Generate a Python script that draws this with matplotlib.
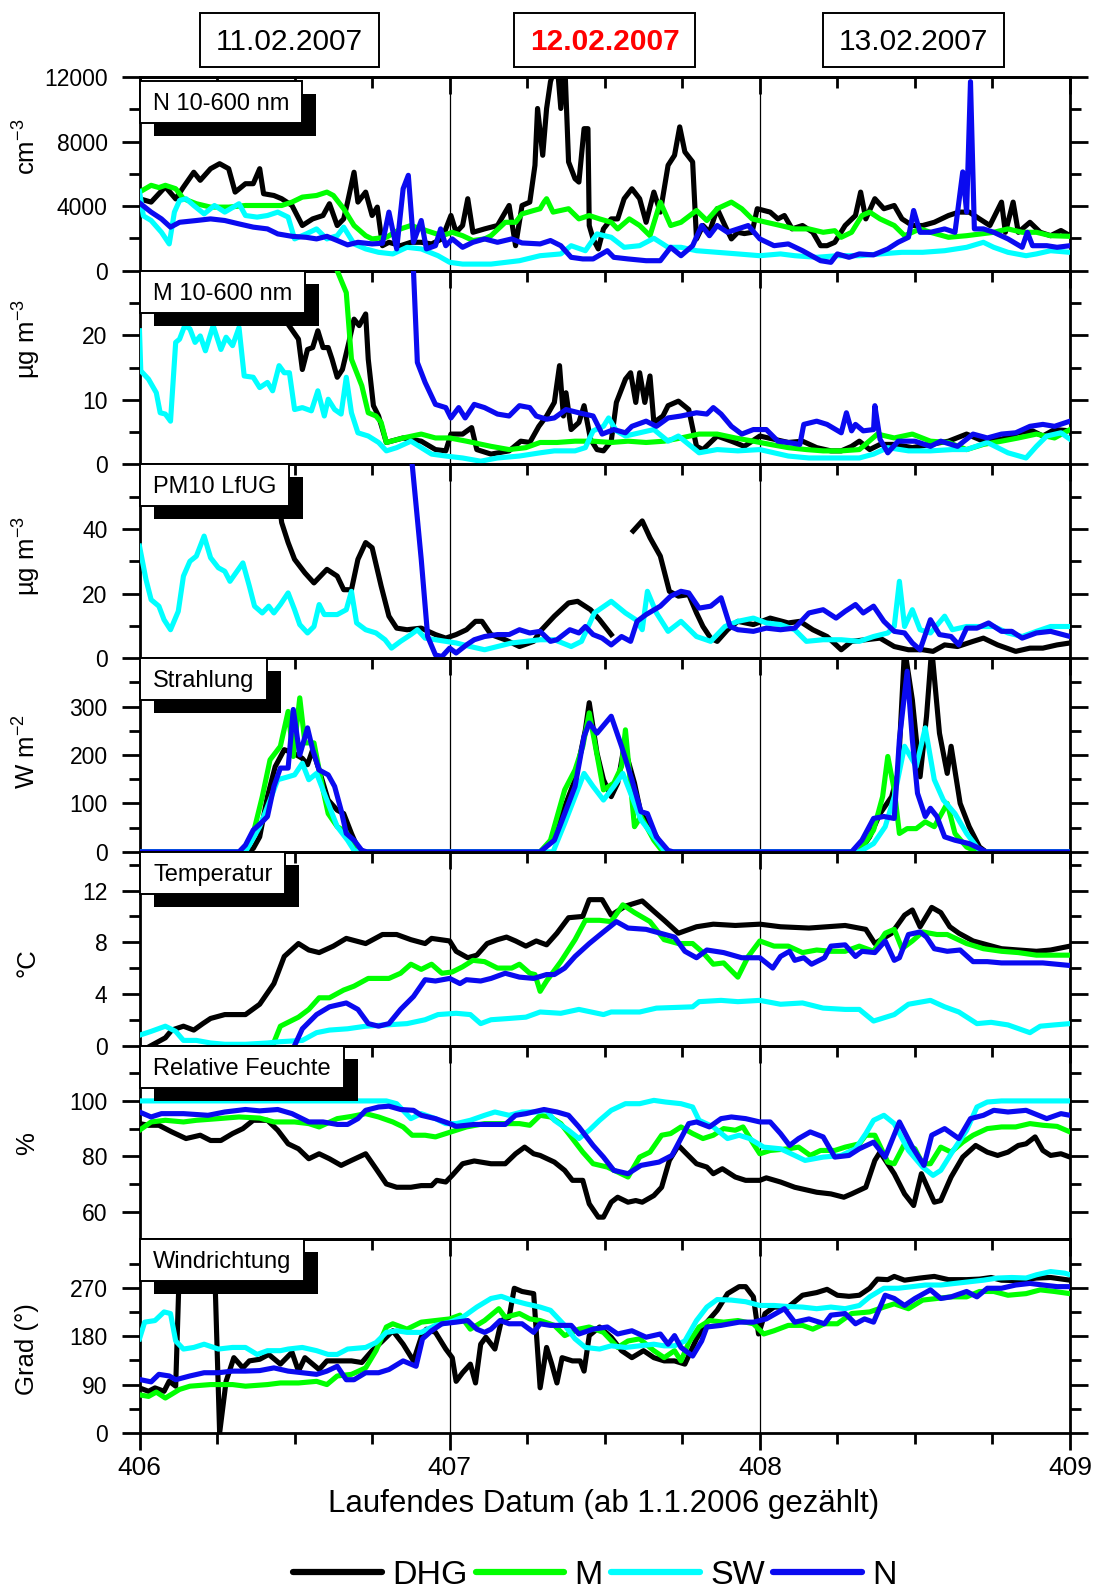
import numpy as np
import matplotlib
matplotlib.use('Agg')
import matplotlib.pyplot as plt
from matplotlib.patches import Rectangle
from matplotlib.lines import Line2D
from matplotlib.transforms import IdentityTransform

plt.rcParams['font.family'] = ['Liberation Sans', 'DejaVu Sans']
plt.rcParams['mathtext.fontset'] = 'custom'
plt.rcParams['mathtext.rm'] = 'Liberation Sans'
plt.rcParams['mathtext.it'] = 'Liberation Sans:italic'
plt.rcParams['mathtext.default'] = 'regular'

nan = np.nan
# ---------------- data: (hours after day 406.0, value) ----------------
stations = ['DHG', 'M', 'SW', 'N']
station_colors = ['#000000', '#00ff00', '#00ffff', '#0a0af0']
date_labels = ['11.02.2007', '12.02.2007', '13.02.2007']
x_ticks = [406, 407, 408, 409]

N_DHG = [(0,4460),(0.9,4250),(2,5200),(2.8,4450),(3.4,5180),(4.2,6100),(4.7,5600),(5.5,6320),(6.2,6630),(6.9,6320),(7.4,4870),(8.2,5390),(8.8,5390),(9.3,6320),(9.6,4770),(10.4,4660),(11,4460),(11.8,4040),(12.6,2800),(13.4,3210),(14.2,3420),(14.7,4150),(15.3,2800),(15.8,3210),(16.1,4250),(16.6,6100),(16.9,4250),(17.5,4870),(18,3420),(18.4,3940),(18.8,1550),(19.3,1760),(20.2,1550),(21,1760),(21.8,1760),(22.6,1660),(23.4,1970),(24.1,3420),(24.5,2380),(25,2800),(25.4,4460),(25.8,2380),(26.7,2590),(27.7,2800),(28.6,4040),(29.1,1550),(29.6,4040),(30.2,4250),(30.6,6530),(30.8,10050),(31.2,7150),(31.5,10050),(31.8,11710),(32.3,13000),(32.6,10050),(32.9,13000),(33.2,6740),(33.7,5700),(34,5490),(34.4,8800),(34.7,8800),(34.8,2800),(35.1,1970),(35.5,1350),(35.9,2590),(36.5,3210),(37,3210),(37.5,4460),(38.1,5080),(38.7,4460),(39.2,3000),(39.8,4870),(40.3,3630),(40.9,6530),(41.4,7150),(41.8,8910),(42.2,7360),(42.8,6740),(43.1,1970),(43.6,2800),(44.1,2380),(44.7,3840),(45.3,2800),(45.8,1970),(46.3,2380),(46.8,2300),(47.4,2380),(47.8,3840),(48.8,3630),(49.4,3210),(49.9,3420),(50.5,2590),(51.3,2800),(52.1,2380),(52.7,1550),(53.2,1550),(53.8,1760),(54.6,2800),(55.4,3420),(55.8,4870),(56.2,3210),(56.9,4460),(57.6,3840),(58.4,4040),(59,3210),(59.8,2800),(60.6,2800),(61.5,3000),(62.6,3420),(63.4,3630),(64.2,3630),(65,3210),(65.8,2800),(66.7,4250),(67,2380),(67.6,4250),(68,2380),(68.9,3000),(69.7,2380),(70.5,2170),(71.3,2490),(72,2170)]
N_M = [(0,4870),(0.9,5290),(1.5,5150),(2,5290),(2.8,5080),(3.4,4460),(4.4,4150),(5.5,3940),(6.9,3940),(8.2,4040),(9.9,4040),(11,4040),(11.8,4250),(12.6,4560),(13.7,4660),(14.5,4870),(15,4660),(15.8,3840),(16.6,2800),(17.5,2170),(18,1970),(19.1,2070),(20.2,2590),(21,2800),(21.8,2590),(22.6,2380),(23.4,2170),(24.2,2380),(25,2170),(25.8,1870),(26.7,1970),(27.2,2170),(28.3,3000),(29.1,3000),(29.6,3520),(30.5,3730),(31,3840),(31.3,4250),(31.5,4460),(32,3630),(33.2,3840),(34,3210),(34.8,3420),(35.6,3210),(36.5,3000),(37,2590),(37.9,3210),(38.7,2800),(39.5,2170),(40.3,4250),(41.1,2800),(41.9,3000),(43.1,3730),(43.9,3110),(44.7,3840),(45.8,4250),(46.6,3840),(47.4,3210),(48.5,3000),(49.6,2800),(50.7,2590),(51.8,2590),(52.9,2380),(53.8,2480),(54.3,2070),(55.1,2380),(55.9,3420),(56.5,3630),(57.3,3210),(58.4,2800),(59.2,2170),(60.4,2590),(61.2,2380),(62.6,2070),(64,2170),(65,2270),(66.1,2380),(67.2,2590),(68.3,2380),(69.4,2380),(70.5,2170),(72,2130)]
N_SW = [(0,4900),(0.3,3400),(0.9,3110),(1.7,2380),(2.3,1660),(2.7,3630),(3.1,4350),(3.6,4460),(4.2,4040),(5,3520),(5.8,4040),(6.6,3630),(7.7,4150),(8.2,3420),(9.1,3320),(9.9,3420),(10.7,3630),(11.5,3320),(12,1970),(12.9,2280),(13.7,2590),(14.5,1970),(15.3,2170),(15.8,2700),(16.6,1660),(17.5,1350),(18.5,1140),(19.6,1040),(20.7,1450),(21.8,1350),(23.1,930),(24,520),(25,410),(27.2,410),(29.4,620),(31,930),(32.6,1040),(33.4,1550),(34.5,1240),(35.4,2280),(36.5,2070),(37.5,1450),(38.7,1550),(39.8,2010),(40.9,1450),(41.9,1450),(43.1,1240),(44.7,1140),(46.3,1040),(48,930),(49.6,1040),(50.7,930),(52.4,830),(54,930),(55.7,930),(57.3,1040),(59,1140),(60.6,1140),(62.3,1240),(64,1450),(65.3,1760),(66.1,1450),(67.2,1140),(68.6,930),(69.4,1040),(70.5,1240),(72,1140)]
N_N = [(0,4200),(0.9,3630),(1.7,3210),(2.4,2700),(3.1,3000),(4.4,3110),(5.5,3210),(6.6,3110),(7.7,2900),(8.8,2700),(9.9,2590),(10.7,2280),(11.8,2130),(12.9,2070),(13.7,1970),(14.5,2130),(15.3,1870),(16.1,1600),(16.9,1760),(18,1660),(18.8,1700),(19.3,3630),(19.9,1350),(20.4,5080),(20.8,5910),(21.2,1760),(21.8,3110),(22.2,1350),(22.9,1550),(23.3,2590),(23.7,1550),(24.2,1970),(25,1450),(25.8,1760),(26.7,1970),(27.7,1760),(28.8,1970),(29.6,1720),(31,1660),(31.8,1870),(32.6,1550),(33.4,830),(34.3,730),(35.1,730),(36.2,1240),(36.7,830),(37.8,730),(39.2,620),(40.3,620),(41.1,1450),(41.9,930),(42.8,1550),(43.5,2800),(44.1,2170),(44.7,2800),(45.5,2380),(46.3,2590),(47.1,2800),(48,1970),(49.1,1550),(50.2,1660),(51.3,1240),(52.7,620),(53.5,520),(54,1040),(54.9,830),(55.7,1040),(56.8,980),(57.9,1350),(58.7,1760),(59.5,2070),(59.9,3730),(60.4,2380),(61.2,2380),(62.3,2590),(63.1,2380),(63.7,6120),(64,3630),(64.3,11710),(64.6,2590),(65.3,2590),(66.1,2380),(67.2,1970),(68.3,1450),(68.7,2380),(69.1,1550),(70.2,1550),(71,1450),(72,1550)]

M_DHG = [(0,32),(10.5,32),(11.5,21.7),(12.3,19.4),(12.6,14.7),(13,17.8),(13.4,18.1),(13.8,20.7),(14.2,18.1),(14.6,18.1),(14.9,16.3),(15.3,13.5),(15.7,14.7),(16.2,18.9),(16.6,22.5),(17,21.5),(17.5,23.3),(17.7,16.3),(18.1,9.1),(18.5,7.5),(19.1,3.4),(20.4,4.1),(21.8,3.6),(22.9,2.3),(23.7,2.1),(24.1,4.7),(25,4.7),(25.7,5.7),(26.1,2.3),(27.2,1.6),(28.6,2.1),(29.5,3.6),(30.2,3.4),(30.9,5.9),(31.5,7.5),(32.1,9.6),(32.5,15.3),(32.8,7.5),(33,11.1),(33.4,5.4),(34,6.5),(34.4,9.1),(34.9,3.9),(35.4,2.3),(35.9,2.1),(36.5,3.6),(36.9,9.6),(37.6,13.2),(38,14.2),(38.4,9.6),(38.7,14.2),(39.1,9.6),(39.5,13.7),(39.8,6.5),(40.5,7.5),(40.9,9.1),(41.7,9.8),(42.5,8.5),(43.1,2.8),(43.6,2.3),(44.7,4.4),(45.8,3.6),(46.8,2.8),(48,4.4),(49.1,3.9),(50.2,3.4),(51.3,3.6),(52.4,2.6),(53.5,2.1),(54.3,2.1),(55.1,2.8),(55.7,3.6),(56.5,2.3),(57.3,3.1),(58.4,3.1),(59.8,2.6),(61.2,3.1),(62.6,3.6),(64,4.7),(65.3,3.6),(66.7,3.9),(68,4.9),(69.1,5.2),(69.9,4.4),(70.8,5.4),(72,5.2)]
M_M = [(0,35),(15,35),(15.3,30),(16,26.6),(16.4,16.3),(17.2,12.2),(17.7,8),(18.3,7.5),(18.7,6.5),(19.1,3.4),(20.4,4.1),(21.8,4.7),(22.9,4.1),(24,4.1),(25.3,3.6),(27.2,2.8),(28.6,2.3),(29.9,2.6),(31,3.4),(32.3,3.4),(33.7,3.6),(35.1,3.6),(36.5,3.4),(37.8,3.6),(39.2,3.4),(40.6,3.6),(41.9,4.1),(43.3,4.7),(44.7,4.7),(46.1,4.1),(47.5,3.6),(48.8,3.1),(50.2,2.6),(51.6,2.3),(52.9,2.1),(54.3,2.1),(55.7,2.3),(57.1,4.7),(58.4,4.1),(59.8,4.7),(61.2,3.6),(62.6,3.4),(64,2.3),(65.3,3.1),(66.7,3.6),(68,4.1),(69.4,4.7),(70.8,4.1),(72,5.4)]
M_SW = [(0,20.7),(0.1,14.5),(0.7,13.2),(1.3,11.1),(1.6,8),(2,7.8),(2.4,6.7),(2.8,18.9),(3.1,19.4),(3.5,21.5),(3.9,21),(4.3,18.9),(4.7,19.9),(5.1,17.6),(5.7,21.5),(6.3,17.8),(6.7,19.7),(7.2,18.4),(7.7,21.2),(8.1,13.7),(8.8,13.5),(9.3,11.9),(9.9,12.7),(10.3,11.4),(10.8,15.3),(11.2,14.2),(11.6,14.2),(12,8.5),(12.6,8.8),(13.3,8.3),(13.8,11.4),(14.3,7.5),(14.6,10.1),(15.1,8.5),(15.6,7.8),(16,13.5),(16.4,8),(16.9,4.9),(17.7,4.4),(18.5,3.4),(19.1,2.1),(19.9,2.6),(21,3.6),(21.8,2.6),(22.6,1.6),(23.7,1.3),(25,1),(26.4,0.5),(27.7,1),(29.4,1.3),(31,1.8),(32.1,2.1),(33.7,2.1),(34.5,2.6),(35.1,5.2),(35.9,5.9),(36.3,7.2),(36.9,5.2),(37.6,4.4),(38.7,4.9),(39.8,5.4),(40.9,3.6),(41.7,4.4),(42.5,3.1),(43.3,1.8),(44.7,2.3),(46.3,2.1),(48,2.3),(50.2,1.3),(51.8,1),(53.8,1),(55.7,1),(56.8,1.6),(57.9,2.6),(59.5,2.1),(61.2,2.1),(62.9,2.3),(64,2.3),(65.6,3.4),(67.2,1.8),(68.6,1),(69.4,2.8),(70.2,4.4),(71.3,4.9),(72,3.9)]
M_N = [(0,40),(21,40),(21.2,30),(21.5,15.8),(22.1,12.7),(22.9,9.3),(23.7,8.8),(24.1,7.2),(24.7,8.8),(25.2,7.2),(25.9,9.3),(26.7,8.8),(27.7,7.8),(28.6,7.5),(29.4,9.1),(30.2,8.8),(30.7,7.5),(31.5,7),(32.1,7.2),(33,8.5),(34,8),(35.1,7.5),(35.8,4.7),(36.7,5.4),(37.6,4.9),(38.1,5.9),(39.2,6.7),(40,5.9),(40.9,7.2),(41.9,7.5),(43.1,8),(43.9,7.8),(44.4,8.8),(45,7.8),(45.8,5.9),(46.6,4.7),(47.5,5.4),(48.5,5.4),(49.4,3.6),(50.2,3.4),(51.1,3.1),(51.4,6.2),(52.4,6.7),(53.2,6.2),(54.3,4.9),(54.7,8),(55.1,5.2),(55.4,6.2),(56,5.2),(56.8,5.4),(56.9,9.1),(57.3,3.9),(57.9,1.8),(58.7,3.6),(60,3.6),(61.2,2.8),(62,3.6),(63.3,2.8),(64.5,4.7),(65.6,4.1),(66.7,4.7),(67.8,4.9),(68.9,5.9),(69.9,6.2),(70.8,5.9),(72,6.7)]

P_DHG = [(0,70),(10.3,65),(11,42),(11.5,35.8),(12,30.6),(12.8,26.4),(13.5,23.3),(14.5,27.5),(15.3,25.4),(15.8,21.2),(16.4,21.2),(16.9,30.6),(17.5,35.8),(18,34.2),(18.7,22.3),(19.3,13),(19.9,9.3),(20.7,8.8),(21.8,9.3),(22.9,7.3),(23.7,6.2),(24.5,7.3),(25.3,8.8),(26,11.4),(26.5,11.4),(27.2,7.3),(28.3,5.7),(29.4,3.6),(30.5,5.2),(31,8.3),(32.1,13),(33.2,17.1),(33.9,17.6),(34.9,15),(35.6,11.9),(36.5,7.3),(37,nan),(38.2,39.4),(38.9,42.5),(39.5,37.3),(40.3,31.6),(41,20.7),(41.7,19.2),(42.5,19.7),(43.1,14),(43.6,9.8),(44.2,6.2),(44.7,5.2),(45.5,8.8),(46.3,11.4),(47.5,10.4),(48.8,12.4),(50.2,10.9),(51.1,11.4),(52.1,8.8),(53.2,6.7),(54.3,2.6),(55.1,5.2),(56.2,5.7),(57.3,6.2),(58.4,3.6),(59.5,2.6),(60.6,2.6),(61.4,2.1),(62.3,4.1),(63.3,3.6),(64.5,5.2),(65.3,6.2),(66.4,4.1),(67.8,2.1),(68.9,3.1),(69.9,3.1),(71,4.1),(72,4.7)]
P_SW = [(0,34.7),(0.5,24.4),(0.9,18.1),(1.5,16.1),(1.9,11.9),(2.4,8.8),(3,14.5),(3.4,25.4),(3.9,30),(4.4,31.6),(5,37.8),(5.5,31.1),(6.1,28),(6.6,26.9),(7,23.8),(8,29.5),(8.5,22.3),(8.9,16.1),(9.5,14),(10,16.1),(10.4,14),(10.9,16.6),(11.5,20.2),(12,15),(12.4,10.4),(13,7.8),(13.5,9.8),(13.9,16.6),(14.3,13.5),(15.3,13.5),(16,15),(16.4,20.7),(16.8,10.9),(17.5,8.8),(18.3,7.8),(19,5.7),(19.5,3.1),(20.2,5.2),(21,7.3),(21.5,8.8),(22.1,6.2),(22.9,5.7),(23.7,5.2),(24.5,4.7),(25.6,3.6),(26.7,2.6),(27.7,3.6),(28.8,4.7),(29.9,5.2),(31,5.7),(32.1,5.7),(33.4,3.6),(34.2,5.2),(35.2,14),(36.5,17.6),(37.6,14),(38.4,11.9),(38.9,8.8),(39.3,20.7),(40,14),(40.9,8.3),(41.9,11.4),(43.1,6.7),(44.2,5.2),(45.3,9.8),(46.3,11.4),(47.5,12.4),(48.5,10.9),(49.6,10.4),(50.7,8.8),(51.6,5.2),(52.9,5.7),(54.3,5.7),(55.7,5.2),(56.8,6.7),(57.9,7.8),(58.4,9.8),(58.8,23.8),(59.2,9.8),(59.8,15),(60.4,8.8),(61.2,7.8),(62.3,13),(62.9,8.8),(64,9.8),(65,9.8),(66.1,9.8),(67.2,7.8),(68.3,6.7),(69.4,8.3),(70.5,9.8),(72,9.8)]
P_N = [(0,57),(0.2,80),(21,80),(21.1,60),(21.8,30.6),(22.3,6.7),(22.9,1),(23.4,0.5),(24,3.1),(24.5,1.6),(25.3,4.1),(25.9,5.7),(26.7,6.7),(27.7,7.3),(28.6,7.3),(29.4,8.8),(30.2,7.8),(31,8.3),(31.8,5.2),(32.3,5.7),(33.3,8.8),(34,7.8),(34.5,9.8),(35.1,7.3),(35.8,6.2),(36.5,4.1),(37.3,6.7),(38,5.2),(38.5,11.4),(39.2,13.5),(40.3,16.1),(41.1,19.2),(41.9,20.7),(42.5,20.2),(43.3,15.5),(44.2,16.1),(45,18.7),(45.7,9.8),(46.3,8.8),(47.5,8.3),(48.5,9.3),(49.6,8.8),(50.7,9.3),(51.8,14),(52.9,15),(53.9,12.4),(54.6,14.5),(55.4,16.6),(56,14),(56.8,16.1),(57.6,11.4),(58.4,8.3),(59.2,7.8),(59.8,4.7),(60.4,2.6),(61.2,11.9),(61.9,7.3),(62.8,6.7),(63.4,4.1),(64,9.3),(64.8,9.3),(65.7,10.9),(66.7,8.3),(67.5,8.3),(68.3,6.2),(69.4,7.8),(70.5,8.3),(72,6.7)]

S_DHG = [(0,0),(8.2,0),(8.8,7),(9.3,31),(9.9,114),(10.5,176),(11.2,211),(11.9,204),(12.6,193),(13,180),(13.4,211),(13.9,169),(14.6,107),(15.3,86),(15.8,79),(16.4,38),(16.9,7),(17.4,0),(31,0),(32.1,28),(32.9,93),(33.7,149),(34.5,252),(34.8,308),(35.4,204),(35.9,149),(36.5,114),(37,142),(37.5,218),(38.3,142),(38.8,79),(39.8,41),(40.6,3),(41,0),(55.7,0),(56.5,31),(57.3,79),(58.2,114),(58.7,162),(59.2,420),(59.8,314),(60.4,155),(60.9,280),(61.3,420),(61.9,245),(62.5,162),(62.8,218),(63.5,100),(64.2,52),(65,10),(65.5,0),(72,0)]
S_M = [(0,0),(8,0),(8.8,38),(9.5,114),(10.1,190),(10.9,218),(11.5,290),(11.9,197),(12.4,318),(12.8,225),(13.5,225),(14.2,128),(14.6,79),(15.3,52),(16,41),(16.4,17),(16.9,0),(31,0),(31.8,24),(32.9,128),(33.7,169),(34.3,218),(34.8,287),(35.9,128),(36.7,142),(37.3,176),(37.6,252),(38.3,52),(38.8,73),(39.8,24),(40.5,0),(55.7,0),(56.8,45),(57.5,114),(57.9,197),(58.4,128),(58.8,38),(59.4,48),(60.1,48),(60.8,62),(61.5,52),(62.5,100),(63.1,38),(64,10),(64.8,0),(72,0)]
S_SW = [(0,0),(8.2,0),(9.3,52),(10.1,107),(10.7,149),(11.5,155),(12,159),(12.6,183),(13.1,149),(13.7,162),(14.5,107),(15.3,52),(16.1,24),(16.6,3),(17,0),(32,0),(32.9,59),(33.7,114),(34.4,162),(35.1,135),(35.9,107),(36.7,135),(37.4,162),(38.1,114),(38.8,66),(39.8,31),(40.6,3),(41,0),(55.7,0),(56.8,17),(57.7,52),(58.4,114),(59.2,218),(60.1,176),(60.8,256),(61.5,149),(62.2,107),(63.1,79),(64,38),(65,3),(65.5,0),(72,0)]
S_N = [(0,0),(7.7,0),(8.2,14),(8.8,45),(9.5,62),(9.9,73),(10.4,135),(10.9,173),(11.5,173),(11.9,294),(12.4,200),(13,256),(13.4,211),(13.9,169),(14.6,159),(15.1,135),(15.6,86),(16,38),(16.6,24),(17.2,3),(17.6,0),(31,0),(32.1,24),(32.9,79),(33.7,135),(34.4,238),(34.8,266),(35.4,245),(36.5,280),(37.3,218),(38.1,149),(38.8,83),(39.3,79),(40,31),(40.9,3),(41.3,0),(55.1,0),(55.9,24),(56.8,69),(57.6,73),(58.4,69),(58.8,232),(59.4,373),(59.8,232),(60.2,121),(60.8,73),(61.2,90),(61.7,73),(62.3,31),(63.1,24),(64.2,17),(65,7),(65.5,0),(72,0)]

T_DHG = [(0,-0.5),(0.9,0),(2,0.6),(2.5,1.2),(3.4,1.5),(4.2,1.2),(4.9,1.7),(5.5,2.1),(6.6,2.4),(8.2,2.4),(9.3,3.2),(10.4,4.8),(11.2,6.9),(12.3,7.9),(13.1,7.4),(13.9,7.2),(15,7.7),(16,8.3),(17.5,7.9),(18.8,8.6),(19.9,8.6),(21,8.2),(22.1,7.9),(22.6,8.3),(24,8.1),(24.5,7.3),(25.4,6.8),(26.1,7),(26.9,7.9),(27.7,8.2),(28.4,8.4),(29.1,8.1),(29.9,7.7),(30.7,8.1),(31.5,7.8),(32.3,8.7),(33.2,9.9),(34.3,10),(34.8,11.3),(35.8,11.3),(36.5,10.1),(37.6,10.8),(38.9,11.2),(39.8,10.4),(40.6,9.7),(41.7,8.7),(43.1,9.2),(44.4,9.4),(46.1,9.3),(48,9.4),(49.6,9.2),(51.8,9.1),(54.6,9.3),(56.2,9),(56.9,7.9),(58.2,8.7),(59.2,10.1),(59.8,10.5),(60.4,9.2),(61.3,10.7),(62,10.3),(62.7,9.2),(63.4,8.7),(64.5,8.1),(65.6,7.8),(66.7,7.5),(68,7.4),(69.4,7.3),(70.5,7.4),(72,7.7)]
T_M = [(0,-1),(9.9,-1),(10.5,0.5),(10.9,1.5),(12.3,2.2),(13.1,2.8),(13.9,3.7),(14.7,3.7),(15.8,4.3),(16.6,4.6),(17.7,5.2),(18.5,5.2),(19.3,5.2),(20.2,5.6),(21,6.3),(21.8,5.9),(22.6,6.3),(23.4,5.6),(24.2,5.7),(25,6.1),(25.8,6.6),(26.7,6.5),(27.7,6),(28.8,6),(29.4,6.3),(30.2,5.6),(30.6,5.5),(31,4.2),(31.5,5),(32.6,6.5),(33.7,8.2),(34.5,9.7),(35.6,9.7),(36.5,9.6),(37.4,10.9),(38.3,10.3),(39.5,9.6),(40.6,8.2),(41.7,7.9),(42.8,7.9),(43.6,7.2),(44.4,6.3),(45.2,6.4),(46.3,5.3),(47.1,6.9),(48,8.1),(49.1,7.7),(50.2,7.7),(51.3,7.2),(52.4,7.4),(53.5,7.3),(54.6,7.3),(55.7,7.7),(56.8,7.3),(57.7,8.7),(58.4,9),(59,7.5),(59.8,8.1),(60.6,8.8),(61.7,8.6),(62.5,8.6),(64,7.9),(65.3,7.5),(66.7,7.3),(68,7.2),(69.4,7),(70.8,7),(72,7)]
T_SW = [(0,0.8),(0.9,1.1),(2,1.5),(2.8,1.1),(3.4,0.4),(4.4,0.4),(5.5,0.2),(6.6,0.1),(8.2,0.1),(9.9,0.2),(10.9,0.3),(12.6,0.4),(13.7,1),(14.7,1.2),(16.1,1.3),(17.5,1.5),(19.1,1.6),(20.7,1.7),(22.1,2),(23.1,2.4),(24.5,2.5),(25.6,2.4),(26.4,1.7),(27.2,2),(28.6,2.1),(29.9,2.2),(31,2.6),(32.6,2.5),(34,2.8),(35.9,2.4),(36.5,2.6),(38.7,2.6),(40,2.9),(42.8,3),(43.3,3.4),(45,3.5),(46.3,3.4),(48,3.5),(49.6,3.2),(51.3,3.3),(52.9,2.9),(54.6,2.8),(55.7,2.8),(56.8,1.9),(58.4,2.4),(59.5,3.2),(61.2,3.5),(62.3,3),(63.4,2.6),(64.8,1.7),(65.9,1.8),(67.2,1.6),(68.9,1),(69.7,1.5),(70.8,1.6),(72,1.7)]
T_N = [(0,-1),(11.5,-1),(12,0),(12.6,1.3),(13.7,2.4),(14.7,3),(16,3.3),(16.9,2.8),(17.7,1.7),(18.5,1.5),(19.3,1.7),(20.2,2.8),(21.2,3.8),(22.1,5.1),(22.9,5),(24,5.2),(24.8,4.8),(25.3,5.1),(26.4,5),(27.2,5.2),(28.3,5.6),(29.4,5.3),(30.5,5.2),(31.5,5.5),(32.1,5.5),(32.9,6),(33.7,6.9),(34.8,7.9),(35.9,8.8),(36.9,9.6),(37.8,9.1),(39.2,9),(40.3,8.7),(41.4,8.4),(42.2,7.3),(43.1,6.8),(43.9,7.4),(45.2,7.2),(46.6,6.8),(48,6.8),(49,6),(49.6,6.9),(50.3,7.3),(50.7,6.6),(51.4,6.8),(52,6.3),(53,6.8),(53.5,7.7),(54.6,7.8),(55.4,6.9),(55.9,7.3),(56.9,7.2),(57.7,8.1),(58.4,6.6),(58.8,6.8),(59.5,8.6),(60.4,8.8),(60.9,8.4),(61.5,7.5),(62.5,7.3),(63.5,7.4),(64.5,6.5),(65.6,6.5),(66.7,6.4),(68,6.4),(69.9,6.4),(72,6.2)]

RH_DHG = [(0,91.8),(0.7,91.2),(1.5,91.2),(2.5,88.8),(3.6,86.4),(4.7,87.6),(5.5,85.7),(6.3,85.7),(7.2,88.2),(8,90),(8.8,93),(9.9,93),(10.7,89.4),(11.5,84.5),(12.3,82.7),(13.1,79.1),(13.9,80.9),(14.7,79.1),(15.6,76.7),(16.4,78.5),(17.5,80.9),(18.3,75.5),(19.1,70),(19.9,68.8),(21,68.8),(21.8,69.4),(22.6,69.4),(23,71.3),(23.7,70.7),(24.2,73.1),(25,77.3),(25.9,78.3),(27.2,77.3),(28.3,77.3),(29.1,80.9),(29.8,83.3),(30.5,80.9),(31,80.3),(32.1,77.9),(32.9,74.9),(33.5,71.3),(34.3,71.3),(34.8,62.8),(35.5,58),(35.9,58),(36.5,63.4),(37,65.2),(37.8,63.4),(38.4,64),(38.9,63.4),(39.8,65.8),(40.4,68.8),(41,78.5),(41.7,83.9),(42.2,81.5),(43.1,77.3),(43.9,76.1),(44.4,73.7),(45.1,75.5),(46.1,72.5),(46.9,71.3),(48,71.3),(48.5,72.2),(49.6,70.7),(50.7,68.8),(52.4,67),(53.5,66.4),(54.5,65.2),(55.1,66.4),(56.2,68.8),(56.9,78.5),(57.3,81.5),(58.4,73.7),(59.2,66.4),(59.9,62.2),(60.5,73.7),(61.5,63.4),(62,64),(62.8,72.5),(63.7,79.7),(64.7,83.9),(65.6,81.5),(66.4,80.3),(67.2,81.5),(68,83.9),(68.6,84.5),(69.3,87),(69.9,82.1),(70.5,80.3),(71.3,80.9),(72,79.7)]
RH_M = [(0,89.4),(0.9,92.4),(2,93),(3.4,92.4),(4.4,93),(6.1,93.6),(7.7,94.2),(9.3,93.8),(10.4,92.4),(12,92.4),(13.1,91.8),(13.9,90.6),(15.3,93.6),(16.4,94.4),(17.5,95.4),(18.5,94.2),(19.6,92.4),(20.4,90.6),(21.1,87.6),(22.1,87.6),(22.9,87),(23.7,88.2),(24.5,89.4),(25.3,90.6),(26.7,91.8),(28,91.8),(29.4,91.8),(30.2,91.2),(31,94.8),(31.8,94.2),(32.6,91.8),(33.4,87),(34.3,81.5),(35.1,77.3),(36.2,76.1),(37,74.3),(37.8,72.5),(38.7,79.7),(39.5,81.5),(40.4,87.6),(41.1,88.2),(41.9,90.6),(42.8,88.2),(43.6,86.4),(44.4,87.6),(45.2,90),(46.1,89.4),(46.7,90.6),(47.5,84.5),(48,80.9),(48.8,82.1),(50.2,82.7),(51,83.3),(51.9,80.3),(52.7,82.1),(53.8,82.1),(54.6,83.3),(55.7,84.5),(56.2,87.6),(56.9,87.6),(57.9,77.9),(58.4,77.3),(59.2,84.5),(60,82.7),(60.6,77.3),(61.2,77.3),(62,83.3),(62.8,81.5),(63.7,85.1),(64.5,87.6),(65.6,90),(66.7,90.6),(67.8,90.6),(68.9,91.8),(69.9,91.2),(71,90.8),(72,88.8)]
RH_SW = [(0,100),(19.1,100),(19.9,99),(21,93.6),(21.8,95.4),(22.9,93.6),(23.7,91.8),(24.5,91.8),(25.6,93),(26.7,94.8),(27.5,96),(28.6,94.8),(29.6,96),(30.7,96),(31.5,96.6),(32.1,93),(33.2,89.4),(34,86.4),(34.8,89.4),(35.6,93),(36.5,96.6),(37.6,99),(38.7,99),(39.8,100.2),(40.7,99.6),(41.9,99),(42.8,97.8),(43.3,93),(44.4,90.6),(45.5,86.4),(46.4,87.6),(47.2,86.4),(48.3,83.3),(49.6,82.7),(50.7,80.3),(51.5,78.5),(52.9,79.7),(54.3,80.3),(55.4,82.7),(56.2,88.2),(56.8,93),(57.6,94.8),(58.4,91.8),(59.5,82.1),(60.6,76.1),(61.4,73.1),(62,74.9),(62.8,80.9),(64,89.4),(64.8,97.8),(65.6,99.6),(66.7,100),(72,100)]
RH_N = [(0,96),(0.9,94.2),(1.7,95.4),(3.4,95.4),(5.3,94.8),(6.6,96),(8.2,96.9),(9.3,96.4),(10.7,96.9),(11.8,95.4),(13.1,92.4),(14.2,92.4),(15.3,91.5),(16.1,91.5),(16.9,93.6),(17.5,96.6),(18.5,97.8),(19.3,98.1),(20.2,96.9),(21.2,96.6),(21.8,94.8),(22.9,93.6),(24,91.8),(24.5,90.8),(25.9,91.5),(27.2,91.5),(28.3,91.5),(29.1,94.8),(29.9,95.4),(31.3,96.9),(32.3,96),(33.2,94.8),(34,90.6),(35.1,83.9),(35.9,79.7),(36.7,74.9),(37.8,73.7),(38.8,76.7),(40.2,77.9),(41.2,80.3),(42.5,91.8),(43.1,92.4),(44.1,90.6),(45,93.6),(45.8,94.2),(46.9,93.6),(48,92.4),(48.8,92.4),(49.6,88.2),(50.3,83.9),(51,86.4),(51.9,88.8),(52.9,87),(53.8,79.7),(54.9,80.3),(55.7,82.7),(56.8,85.1),(57.7,79.7),(58.8,92.4),(59.8,83.3),(60.7,76.7),(61.3,87.6),(62.3,90),(63.4,86.4),(64.3,93.6),(65.3,94.8),(66.1,96.6),(67.2,96),(68.6,96.6),(70.2,93.6),(71.3,95.4),(72,94.8)]

W_DHG = [(0,83.8),(0.7,77.5),(1.2,83.8),(1.9,77.5),(2.3,96.3),(2.8,87),(3.1,320),(4.5,335),(5.8,320),(6.2,0),(6.7,96),(7.3,140),(8,121),(8.5,134),(9.3,137),(10,146),(10.9,128),(11.8,150),(12.3,115),(12.8,140),(13.9,118),(14.5,134),(15.6,134),(16.4,134),(17.2,131),(18,153),(18.8,171),(19.6,190),(20.4,165),(21.2,134),(21.8,178),(22.2,193),(22.9,187),(23.7,156),(24.2,140),(24.5,96),(25,112),(25.6,128),(26,93),(26.4,165),(26.8,178),(27.5,156),(28,209),(28.6,215),(29,269),(29.6,263),(30.5,259),(31,84),(31.5,159),(31.9,128),(32.3,93),(32.7,140),(33.5,134),(34.1,134),(34.4,115),(34.8,181),(35.6,197),(36.5,178),(37.3,153),(38.1,140),(39,153),(39.8,140),(40.6,134),(41.4,134),(42.2,128),(43.1,175),(43.9,206),(44.7,228),(45.5,259),(46.4,272),(46.9,272),(47.5,253),(47.9,184),(48.4,222),(49.1,234),(50.2,234),(51.3,256),(52.4,261),(53.2,267),(54,256),(54.9,254),(55.7,256),(56.5,269),(57.1,286),(57.9,285),(58.4,291),(59.2,284),(60.4,288),(61.5,291),(62.6,285),(64,285),(65,286),(65.9,289),(66.7,284),(68,283),(69.4,288),(70.5,289),(72,284)]
W_M = [(0,71),(0.7,68),(1.3,76),(2,65),(3.1,81),(3.9,87),(5.5,90),(7.2,90),(8.2,87),(9.9,90),(10.9,93),(12.3,93),(13.7,96),(14.5,90),(15.3,106),(16.4,109),(17.5,121),(18.3,153),(19.1,197),(19.6,203),(20.7,193),(21.8,206),(22.9,209),(24,212),(24.8,219),(25.6,193),(26.7,209),(27.8,231),(28.3,215),(29.4,222),(30.2,212),(31,209),(32.1,200),(32.9,181),(34,193),(34.8,197),(35.9,187),(37,159),(37.8,171),(38.7,175),(39.8,153),(40.6,140),(41.4,153),(41.9,134),(42.5,168),(43.3,197),(44.1,209),(45.2,206),(46.3,209),(47.5,203),(48.3,184),(49.1,190),(50.2,200),(51.3,200),(52.1,193),(53,203),(54,203),(55.1,222),(56.5,225),(57.6,234),(58.4,240),(59.5,231),(60.6,247),(61.7,250),(62.8,253),(64,253),(65,263),(66.1,263),(67.2,256),(68.6,259),(69.7,266),(70.8,263),(72,259)]
W_SW = [(0,175),(0.4,206),(1.2,209),(1.9,225),(2.4,222),(2.8,171),(3.4,156),(4.2,159),(5,165),(6.1,156),(7.2,159),(8.2,159),(9.1,146),(9.9,153),(10.9,153),(11.5,156),(12.6,159),(13.7,153),(14.6,146),(15.3,146),(16.1,156),(17.5,159),(18.3,168),(19.1,187),(19.9,190),(20.7,187),(21.8,187),(22.9,200),(24,206),(25,215),(26.1,234),(27.2,250),(28,254),(28.8,247),(29.9,240),(31,234),(31.8,228),(32.9,200),(33.7,175),(34.5,159),(35.6,156),(36.5,162),(37.6,159),(38.7,162),(39.8,165),(40.6,162),(41.4,162),(42.2,171),(43.1,209),(43.9,234),(44.7,248),(45.8,247),(46.9,244),(48,237),(49.1,237),(50.2,235),(51.3,234),(52.4,231),(53.5,234),(54.6,231),(55.7,237),(56.5,253),(57.6,269),(58.7,269),(59.8,272),(60.8,275),(62,275),(63.1,278),(64.2,281),(65.3,284),(66.4,288),(67.5,289),(68.6,288),(69.4,294),(70.5,300),(71.6,297),(72,294)]
W_N = [(0,99.5),(0.9,95),(1.5,109),(2.3,106),(2.8,99),(3.9,106),(5,112),(6.1,112),(7.2,115),(8.2,115),(9.3,116),(10.4,121),(11.5,115),(12.6,112),(13.7,109),(14.5,115),(15.3,124),(16,99),(16.6,99),(17.5,112),(18.5,112),(19.3,118),(20.4,134),(21.4,124),(21.9,175),(22.6,190),(23.4,203),(24.5,206),(25.4,209),(26.1,193),(26.7,187),(27.2,193),(27.9,209),(28.6,203),(29.6,203),(30.5,187),(31,203),(31.8,200),(32.6,200),(33.4,200),(34,184),(35.1,193),(36.2,197),(37,184),(38.1,190),(39.2,178),(40.3,184),(40.9,165),(41.4,181),(41.9,159),(42.8,143),(43.5,171),(43.9,197),(45,200),(46.4,206),(47.5,206),(48.5,212),(49.9,231),(50.7,206),(51.8,212),(53,203),(53.5,219),(54.6,222),(55.4,203),(56.1,212),(56.8,206),(57.7,256),(58.4,250),(59.2,237),(60,250),(61.2,266),(62,250),(62.8,253),(64,263),(64.8,253),(65.6,269),(66.7,269),(67.8,275),(68.9,278),(69.9,275),(71,272),(72,272)]

panel_titles = ['N 10-600 nm', 'M 10-600 nm', 'PM10 LfUG', 'Strahlung', 'Temperatur', 'Relative Feuchte', 'Windrichtung']
panel_ylabels = ['cm$^{-3}$', 'µg m$^{-3}$', 'µg m$^{-3}$', 'W m$^{-2}$', '°C', '%', 'Grad (°)']
panel_ylims = [(0, 12000), (0, 30), (0, 60), (0, 400), (0, 15), (50, 120), (0, 360)]
panel_major = [[0, 4000, 8000, 12000], [0, 10, 20], [0, 20, 40], [0, 100, 200, 300], [0, 4, 8, 12], [60, 80, 100], [0, 90, 180, 270]]
panel_minor = [[2000, 6000, 10000], [5, 15, 25], [10, 30, 50], [50, 150, 250, 350], [2, 6, 10, 14], [70, 90, 110], [45, 135, 225, 315]]
panel_series = [
    [N_DHG, N_M, N_SW, N_N],
    [M_DHG, M_M, M_SW, M_N],
    [P_DHG, None, P_SW, P_N],
    [S_DHG, S_M, S_SW, S_N],
    [T_DHG, T_M, T_SW, T_N],
    [RH_DHG, RH_M, RH_SW, RH_N],
    [W_DHG, W_M, W_SW, W_N],
]

# ---------------- layout (pixels) ----------------
W, H = 1098, 1589
fig = plt.figure(figsize=(W / 100, H / 100), dpi=100)


def fx(px):
    return px / W


def fy(py):
    return 1 - py / H


LEFT, RIGHT, TOP, BOT = 139.5, 1070.0, 77.0, 1433.0
PH = (BOT - TOP) / 7
ylabel_centers = [147, 339, 556, 752, 963, 1144, 1349]
LW = 3.7

axes = []
for i in range(7):
    ax = fig.add_axes([fx(LEFT), fy(TOP + (i + 1) * PH), (RIGHT - LEFT) / W, PH / H])
    ax.set_facecolor('none')
    for sp in ax.spines.values():
        sp.set_linewidth(2.0)
    for val in (407, 408):
        ax.axvline(val, color='black', lw=0.9, zorder=1)
    for data, col in zip(panel_series[i], station_colors):
        if data is None:
            continue
        arr = np.array(data, dtype=float)
        ax.plot(406 + arr[:, 0] / 24.0, arr[:, 1], color=col, lw=LW, zorder=3)
    ax.set_xlim(406, 409)
    ax.set_ylim(*panel_ylims[i])
    ax.set_xticks(x_ticks)
    ax.set_xticks(np.arange(406, 409.001, 0.25), minor=True)
    ax.set_yticks(panel_major[i])
    ax.set_yticks(panel_minor[i], minor=True)
    ax.tick_params(axis='x', which='major', direction='out', length=12.5, width=2, bottom=True, top=False,
                   labelsize=19, pad=4)
    ax.tick_params(axis='x', which='minor', direction='out', length=8, width=2, bottom=True, top=False)
    ax.tick_params(axis='y', which='major', direction='out', length=13, width=2, left=True, right=True,
                   labelsize=16.5, pad=10, labelright=False)
    ax.tick_params(axis='y', which='minor', direction='out', length=8, width=2, left=True, right=True)
    if i < 6:
        ax.tick_params(axis='x', labelbottom=False)
    axes.append(ax)
    fig.text(fx(27), fy(ylabel_centers[i]), panel_ylabels[i], rotation=90, ha='center', va='center',
             fontsize=18.5)

# inward ticks on the top edge of the first panel
sec = axes[0].secondary_xaxis('top')
sec.set_xticks(x_ticks, labels=[''] * len(x_ticks))
sec.set_xticks(np.arange(406, 409.001, 0.25), minor=True)
sec.tick_params(axis='x', which='major', direction='in', length=12.5, width=2)
sec.tick_params(axis='x', which='minor', direction='in', length=8, width=2)
sec.spines['top'].set_linewidth(2.0)

# x label
fig.text(fx(604), fy(1504), 'Laufendes Datum (ab 1.1.2006 gezählt)', ha='center', va='center', fontsize=22.5)

# legend
handles = [Line2D([], [], color=c, lw=4.5, solid_capstyle='round') for c in station_colors]
fig.legend(handles, stations, loc='center', bbox_to_anchor=(fx(595), fy(1575)), ncol=4, frameon=False,
           fontsize=24.5, handlelength=2.6, handletextpad=0.3, columnspacing=0.25, borderpad=0, borderaxespad=0)

# panel title texts and date texts
title_texts = []
for i, t in enumerate(panel_titles):
    top = TOP + i * PH + (4 if i == 0 else 0)
    txt = fig.text(fx(140 + 13), fy(top + 29), t, ha='left', va='baseline', fontsize=17, zorder=10)
    title_texts.append((txt, top))

date_centers = [289.5, 604.5, 913.5]
date_texts = []
for lab, cx in zip(date_labels, date_centers):
    bold = lab == '12.02.2007'
    txt = fig.text(fx(cx), fy(49.5), lab, ha='center', va='baseline', fontsize=21.5,
                   color='red' if bold else 'black', fontweight='bold' if bold else 'normal', zorder=10)
    date_texts.append(txt)

fig.canvas.draw()
rend = fig.canvas.get_renderer()
ident = IdentityTransform()
for txt, top in title_texts:
    bb = txt.get_window_extent(rend)
    w = bb.width + 26
    h = 42
    x0 = 140
    y0 = H - (top + h)
    fig.add_artist(Rectangle((x0 + 14, y0 - 13), w, h, transform=ident, facecolor='black',
                             edgecolor='black', lw=0, zorder=8))
    fig.add_artist(Rectangle((x0, y0), w, h, transform=ident, facecolor='white',
                             edgecolor='black', lw=1.4, zorder=9))
for txt, cx in zip(date_texts, date_centers):
    bb = txt.get_window_extent(rend)
    w = bb.width + 32
    fig.add_artist(Rectangle((cx - w / 2, H - 66.7), w, 54, transform=ident, facecolor='white',
                             edgecolor='black', lw=1.4, zorder=9))

fig.savefig('out.png', dpi=100)
